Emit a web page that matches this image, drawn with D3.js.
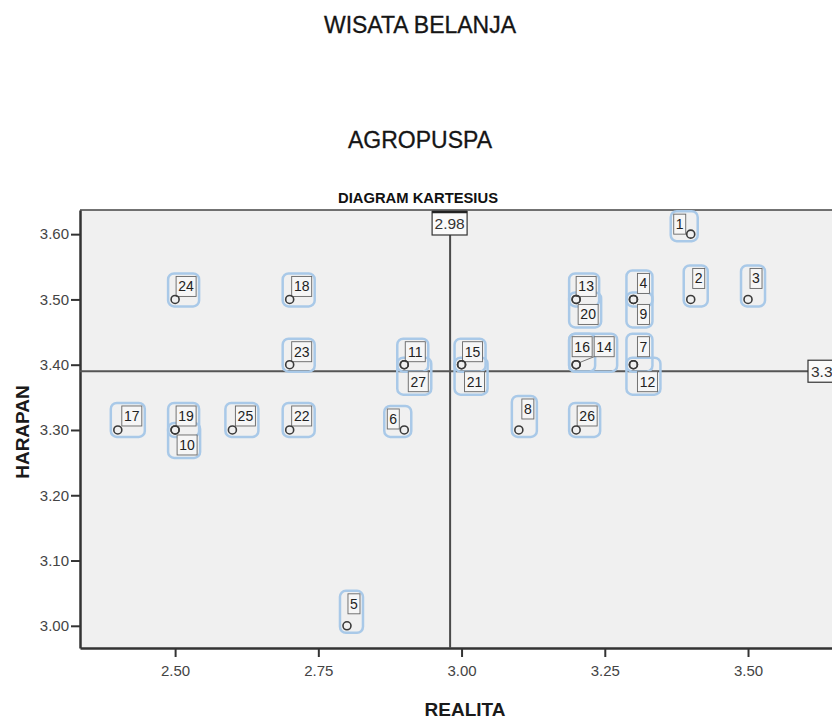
<!DOCTYPE html>
<html><head><meta charset="utf-8">
<script src="https://cdn.jsdelivr.net/npm/d3@7"></script>
<style>body{margin:0;background:#fff}svg{display:block}text{font-family:"Liberation Sans",Arial,sans-serif}</style>
</head><body>
<script>
const ids = [1,2,3,4,5,6,7,8,9,10,11,12,13,14,15,16,17,18,19,20,21,22,23,24,25,26,27];
const realita = [3.40,3.40,3.50,3.30,2.80,2.90,3.30,3.10,3.30,2.50,2.90,3.30,3.20,3.20,3.00,3.20,2.40,2.70,2.50,3.20,3.00,2.70,2.70,2.50,2.60,3.20,2.90];
const harapan = [3.60,3.50,3.50,3.50,3.00,3.30,3.40,3.30,3.50,3.30,3.40,3.40,3.50,3.40,3.40,3.40,3.30,3.50,3.30,3.50,3.40,3.30,3.40,3.50,3.30,3.30,3.40];
const xTicks = [2.50,2.75,3.00,3.25,3.50];
const yTicks = [3.00,3.10,3.20,3.30,3.40,3.50,3.60];
const refX = 2.98, refY = 3.39;
const titles = ["WISATA BELANJA","AGROPUSPA"];
const chartTitle = "DIAGRAM KARTESIUS";
const xLabel = "REALITA", yLabel = "HARAPAN";

// label placement (layout only): label centre offset from its point
const labelOffsets = {1:[-11,-10],2:[8,-21],3:[8,-21],4:[10,-16],5:[7,-22],6:[-11,-11],7:[10,-18],8:[9,-21],9:[10,15],
  10:[12,15],11:[11,-13],12:[14,17],13:[10,-13],14:[28,-18],15:[11,-13],16:[6,-18],17:[14,-14],18:[12,-13],19:[11,-14],
  20:[12,15],21:[13,17],22:[12,-14],23:[12,-13],24:[11,-13],25:[13,-14],26:[11,-14],27:[14,17]};
const leaderIds = [14];

const W=832,H=720;
const L=80,R=850,T=210,B=648;
const x = d3.scaleLinear().domain([2.334,3.678]).range([L,R]);
const y = d3.scaleLinear().domain([2.966,3.637]).range([B,T]);

const svg = d3.select("body").append("svg").attr("width",W).attr("height",H);

svg.append("text").attr("x",420).attr("y",33).attr("text-anchor","middle").attr("font-size",23).attr("fill","#151515").attr("stroke","#151515").attr("stroke-width",0.3).text(titles[0]);
svg.append("text").attr("x",420).attr("y",148).attr("text-anchor","middle").attr("font-size",23).attr("fill","#151515").attr("stroke","#151515").attr("stroke-width",0.3).text(titles[1]);

svg.append("rect").attr("x",L).attr("y",T).attr("width",R-L).attr("height",B-T).attr("fill","#f0f0f0");

svg.append("text").attr("x",338).attr("y",203).attr("font-size",15).attr("font-weight","bold").attr("fill","#111")
  .attr("textLength",160).attr("lengthAdjust","spacingAndGlyphs").text(chartTitle);

// frame
svg.append("line").attr("x1",L).attr("x2",R).attr("y1",T).attr("y2",T).attr("stroke","#444").attr("stroke-width",1.6);
svg.append("line").attr("x1",R).attr("x2",R).attr("y1",T).attr("y2",B).attr("stroke","#444").attr("stroke-width",1.6);

// axes
const xAxis = d3.axisBottom(x).tickValues(xTicks).tickFormat(d3.format(".2f")).tickSize(9).tickSizeOuter(0);
const gx = svg.append("g").attr("transform",`translate(0,${B})`).call(xAxis);
gx.select(".domain").attr("stroke","#333").attr("stroke-width",2.5);
gx.selectAll(".tick line").attr("stroke","#333").attr("stroke-width",2);
gx.selectAll(".tick text").attr("font-size",15).attr("fill","#444").attr("dy","1.05em").style("font-family","'Liberation Sans',Arial,sans-serif");

const yAxis = d3.axisLeft(y).tickValues(yTicks).tickFormat(d3.format(".2f")).tickSize(9).tickSizeOuter(0);
const gy = svg.append("g").attr("transform",`translate(${L},0)`).call(yAxis);
gy.select(".domain").attr("stroke","#333").attr("stroke-width",2.5);
gy.selectAll(".tick line").attr("stroke","#333").attr("stroke-width",2);
gy.selectAll(".tick text").attr("font-size",15).attr("fill","#444").attr("x",-11).style("font-family","'Liberation Sans',Arial,sans-serif");

svg.append("text").attr("x",465).attr("y",716).attr("text-anchor","middle").attr("font-size",19).attr("font-weight","bold").attr("fill","#1a1a1a").text(xLabel);
svg.append("text").attr("transform",`translate(29,${(T+B)/2+3}) rotate(-90)`).attr("text-anchor","middle").attr("font-size",19).attr("font-weight","bold").attr("fill","#1a1a1a").text(yLabel);

// reference lines
const rx = x(refX), ry = y(refY);
svg.append("line").attr("x1",rx).attr("x2",rx).attr("y1",T+25).attr("y2",B).attr("stroke","#4a4a4a").attr("stroke-width",2);
svg.append("line").attr("x1",L).attr("x2",808).attr("y1",ry).attr("y2",ry).attr("stroke","#555").attr("stroke-width",2.2);

const bx = svg.append("g");
bx.append("rect").attr("x",rx-18).attr("y",T+1.5).attr("width",35).attr("height",23.5).attr("fill","#fafafa").attr("stroke","#333").attr("stroke-width",1.2);
bx.append("line").attr("x1",rx-18).attr("x2",rx+17).attr("y1",T+2).attr("y2",T+2).attr("stroke","#222").attr("stroke-width",2.5);
bx.append("text").attr("x",rx-0.5).attr("y",T+19).attr("text-anchor","middle").attr("font-size",15.5).attr("fill","#333").text(refX.toFixed(2));

const by = svg.append("g");
by.append("rect").attr("x",808).attr("y",ry-11).attr("width",40).attr("height",22).attr("fill","#fafafa").attr("stroke","#333").attr("stroke-width",1.2);
by.append("text").attr("x",811).attr("y",ry+6).attr("font-size",15.5).attr("fill","#333").text(refY.toFixed(2));

// points & labels
const data = ids.map((id,i)=>({id, rx:realita[i], hy:harapan[i]}));
const labG = svg.append("g");
function geom(d){
  const px = x(d.rx), py = y(d.hy);
  const [dx,dy] = labelOffsets[d.id];
  const s = String(d.id);
  const w = s.length*8+4, h = 20;
  return {px,py,cx:px+dx,cy:py+dy,w,h,s};
}
data.forEach(d=>{
  const g = geom(d);
  const x0 = Math.min(g.cx-g.w/2, g.px-4)-3, x1 = Math.max(g.cx+g.w/2, g.px+4)+3;
  const y0 = Math.min(g.cy-g.h/2, g.py-4)-3, y1 = Math.max(g.cy+g.h/2, g.py+4)+3;
  labG.append("rect").attr("x",x0).attr("y",y0).attr("width",x1-x0).attr("height",y1-y0).attr("rx",6)
    .attr("fill","none").attr("stroke","#a9c9e8").attr("stroke-width",2.5);
});
data.forEach(d=>{
  const g = geom(d);
  if (leaderIds.includes(d.id)) {
    labG.append("line").attr("x1",g.cx-g.w/2).attr("y1",g.cy+g.h/2).attr("x2",g.px+3).attr("y2",g.py-2)
      .attr("stroke","#777").attr("stroke-width",1);
  }
  labG.append("rect").attr("x",g.cx-g.w/2).attr("y",g.cy-g.h/2).attr("width",g.w).attr("height",g.h)
    .attr("fill","#f6f6f6").attr("stroke","#666").attr("stroke-width",0.9);
  labG.append("text").attr("x",g.cx).attr("y",g.cy+5).attr("text-anchor","middle").attr("font-size",14).attr("fill","#222").text(g.s);
});
svg.append("g").selectAll("circle").data(data).join("circle")
  .attr("cx",d=>x(d.rx)).attr("cy",d=>y(d.hy)).attr("r",4)
  .attr("fill","none").attr("stroke","#3a3a3a").attr("stroke-width",1.6);
</script>
</body></html>
